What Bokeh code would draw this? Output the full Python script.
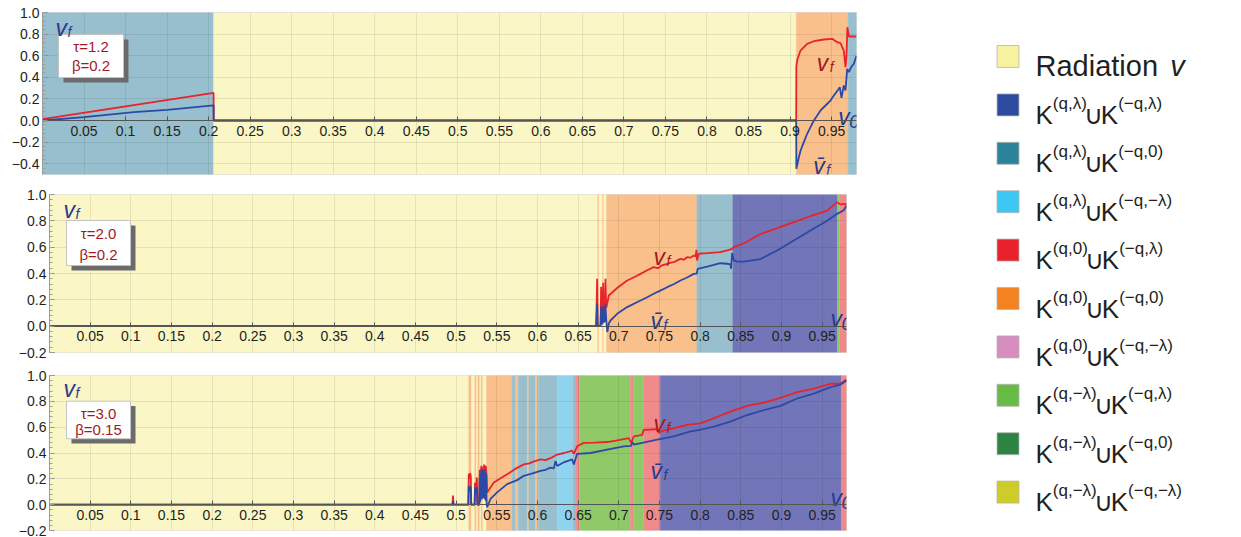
import math
from bokeh.plotting import figure
from bokeh.models import Range1d, FixedTicker, CustomJSTickFormatter
from bokeh.layouts import row, column
from bokeh.core.properties import value
from bokeh.embed import file_html
from bokeh.resources import INLINE

FONT = "Liberation Sans"
RED = "#E8232B"
BLUE = "#2C49A6"
DARKRED = "#A3191F"
NAVY = "#2B3990"
INK = "#231F20"

# ---------------- categories / legend ----------------
sup_a = ["(q,λ)", "(q,λ)", "(q,λ)", "(q,0)", "(q,0)", "(q,0)", "(q,−λ)", "(q,−λ)", "(q,−λ)"]
sup_b = ["(−q,λ)", "(−q,0)", "(−q,−λ)", "(−q,λ)", "(−q,0)", "(−q,−λ)", "(−q,λ)", "(−q,0)", "(−q,−λ)"]
legend_colors = ["#F7F2A0", "#2D4C9F", "#2B8399", "#3DC7F2", "#E8212A",
                 "#F58220", "#D78DC0", "#68BC46", "#2D8442", "#CDCC29"]
region_colors = ["#FAF6C6", "#7276B8", "#98BFCD", "#8FD4EF", "#F08A8A",
                 "#F9C08B", "#EBC3DF", "#90CA68", "#8FBF98", "#E4E39A"]

# ---------------- axes ----------------
X_START, X_END = 0.0, 0.98
x_ticks = [0.05, 0.1, 0.15, 0.2, 0.25, 0.3, 0.35, 0.4, 0.45, 0.5,
           0.55, 0.6, 0.65, 0.7, 0.75, 0.8, 0.85, 0.9, 0.95]
x_tick_labels = ["0.05", "0.1", "0.15", "0.2", "0.25", "0.3", "0.35", "0.4", "0.45", "0.5",
                 "0.55", "0.6", "0.65", "0.7", "0.75", "0.8", "0.85", "0.9", "0.95"]
y_ticks_1 = [-0.4, -0.2, 0.0, 0.2, 0.4, 0.6, 0.8, 1.0]
y_labels_1 = ["−0.4", "−0.2", "0.0", "0.2", "0.4", "0.6", "0.8", "1.0"]
y_ticks_2 = [-0.2, 0.0, 0.2, 0.4, 0.6, 0.8, 1.0]
y_labels_2 = ["−0.2", "0.0", "0.2", "0.4", "0.6", "0.8", "1.0"]

# ---------------- panel 1 (tau=1.2, beta=0.2) ----------------
p1_tau, p1_beta = "1.2", "0.2"
p1_reg_start = [0.0, 0.206, 0.9075, 0.9700]
p1_reg_end = [0.206, 0.9075, 0.9700, 0.98]
p1_reg_cat = [2, 0, 5, 2]
p1_vf_x = [0.0, 0.206, 0.2061, 0.9074, 0.9076, 0.9086, 0.9126, 0.9206, 0.9286, 0.9407,
           0.9508, 0.9567, 0.9607, 0.9647, 0.9668, 0.9680, 0.9690, 0.9708, 0.9750, 0.98]
p1_vf_y = [0.012, 0.256, 0.0, 0.0, 0.50, 0.56, 0.648, 0.71, 0.734, 0.75,
           0.756, 0.725, 0.716, 0.648, 0.494, 0.60, 0.864, 0.778, 0.778, 0.778]
p1_vb_x = [0.0, 0.05, 0.11, 0.15, 0.206, 0.2061, 0.9074, 0.9076, 0.9106, 0.9126, 0.9166,
           0.9206, 0.9246, 0.9286, 0.9327, 0.9367, 0.9427, 0.9487, 0.9527, 0.9567, 0.9599,
           0.9619, 0.9647, 0.9668, 0.9688, 0.9708, 0.9736, 0.9768, 0.98]
p1_vb_y = [0.0, 0.031, 0.077, 0.099, 0.14, 0.0, 0.0, -0.447, -0.34, -0.28, -0.2,
           -0.123, -0.062, 0.0, 0.046, 0.093, 0.139, 0.185, 0.231, 0.272, 0.309,
           0.21, 0.324, 0.278, 0.478, 0.448, 0.494, 0.525, 0.60]

# ---------------- panel 2 (tau=2.0, beta=0.2) ----------------
p2_tau, p2_beta = "2.0", "0.2"
p2_reg_start = [0.0, 0.6740, 0.6756, 0.6800, 0.6815, 0.6849, 0.7960, 0.8402, 0.9690, 0.9717]
p2_reg_end = [0.6740, 0.6756, 0.6800, 0.6815, 0.6849, 0.7960, 0.8402, 0.9690, 0.9717, 0.98]
p2_reg_cat = [0, 5, 0, 5, 0, 5, 2, 1, 7, 4]
p2_vf_x = [0.0, 0.6722, 0.6734, 0.6740, 0.6775, 0.6783, 0.6790, 0.6802, 0.6808, 0.6815,
           0.6830, 0.6836, 0.6845, 0.6857, 0.6877, 0.6980, 0.7103, 0.7200, 0.7267, 0.7350,
           0.7430, 0.7480, 0.7530, 0.7595, 0.7640, 0.7676, 0.7720, 0.7758, 0.7800, 0.7840,
           0.7880, 0.7922, 0.7945, 0.7955, 0.7962, 0.7984, 0.8087, 0.8250, 0.8333, 0.8394,
           0.8414, 0.8540, 0.8742, 0.8950, 0.9152, 0.9357, 0.9562, 0.9685, 0.9720, 0.9800]
p2_vf_y = [0.0, 0.0, 0.36, 0.0, 0.0, 0.30, 0.04, 0.04, 0.33, 0.08,
           0.10, 0.36, 0.14, 0.17, 0.233, 0.29, 0.347, 0.375, 0.397, 0.425,
           0.448, 0.44, 0.462, 0.473, 0.482, 0.486, 0.50, 0.511, 0.505, 0.524,
           0.52, 0.537, 0.53, 0.58, 0.50, 0.55, 0.554, 0.562, 0.575, 0.587,
           0.60, 0.63, 0.70, 0.745, 0.79, 0.835, 0.878, 0.942, 0.925, 0.929]
p2_vb_x = [0.0, 0.6722, 0.6734, 0.6740, 0.6775, 0.6783, 0.6790, 0.6802, 0.6808, 0.6815,
           0.6830, 0.6836, 0.6845, 0.6852, 0.6860, 0.6877, 0.6898, 0.6980, 0.7103, 0.7267,
           0.7350, 0.7430, 0.7510, 0.7595, 0.7680, 0.7758, 0.7840, 0.7922, 0.7960, 0.7970,
           0.8087, 0.8250, 0.8333, 0.8373, 0.8380, 0.8394, 0.8414, 0.8455, 0.8537, 0.8742,
           0.8947, 0.9152, 0.9357, 0.9562, 0.9685, 0.9766, 0.9800]
p2_vb_y = [0.0, 0.0, 0.17, 0.0, 0.0, 0.15, 0.02, 0.02, 0.15, 0.03,
           0.04, 0.17, 0.05, 0.0, -0.045, 0.02, 0.043, 0.094, 0.145, 0.195,
           0.22, 0.246, 0.27, 0.296, 0.32, 0.347, 0.37, 0.397, 0.40, 0.436,
           0.453, 0.478, 0.474, 0.47, 0.436, 0.555, 0.50, 0.49, 0.49, 0.51,
           0.575, 0.65, 0.727, 0.80, 0.853, 0.88, 0.916]

# ---------------- panel 3 (tau=3.0, beta=0.15) ----------------
p3_tau, p3_beta = "3.0", "0.15"
p3_reg_start = [0.0, 0.5156, 0.5189, 0.5229, 0.5250, 0.5266, 0.5291, 0.5308, 0.5328, 0.5373,
                0.5689, 0.5730, 0.5763, 0.5874, 0.5893, 0.5976, 0.6009, 0.6242, 0.6434, 0.6476,
                0.6517, 0.7144, 0.7184, 0.7307, 0.7510, 0.9738]
p3_reg_end = [0.5156, 0.5189, 0.5229, 0.5250, 0.5266, 0.5291, 0.5308, 0.5328, 0.5373, 0.5689,
              0.5730, 0.5763, 0.5874, 0.5893, 0.5976, 0.6009, 0.6242, 0.6434, 0.6476, 0.6517,
              0.7144, 0.7184, 0.7307, 0.7510, 0.9738, 0.98]
p3_reg_cat = [0, 5, 0, 5, 0, 5, 0, 5, 0, 5, 2, 5, 2, 5, 2, 5, 2, 3, 2, 4, 7, 4, 7, 4, 1, 4]
p3_vf_x = [0.0, 0.4955, 0.4962, 0.4968, 0.5150, 0.5155, 0.5165, 0.5172, 0.5180, 0.5186,
           0.5228, 0.5232, 0.5245, 0.5255, 0.5262, 0.5285, 0.5290, 0.5300, 0.5310, 0.5318,
           0.5325, 0.5335, 0.5345, 0.5355, 0.5365, 0.5375, 0.5382, 0.5463, 0.5627, 0.5689,
           0.5750, 0.5832, 0.5900, 0.5960, 0.6037, 0.6100, 0.6160, 0.6242, 0.6330, 0.6427,
           0.6447, 0.6488, 0.6570, 0.6700, 0.6857, 0.7000, 0.7123, 0.7144, 0.7160, 0.7184,
           0.7288, 0.7307, 0.7400, 0.7472, 0.7493, 0.7534, 0.7677, 0.7841, 0.8004, 0.8168,
           0.8373, 0.8578, 0.8783, 0.8988, 0.9193, 0.9398, 0.9603, 0.9726, 0.9800]
p3_vf_y = [0.0, 0.0, 0.07, 0.0, 0.0, 0.24, 0.20, 0.245, 0.22, 0.0,
           0.0, 0.17, 0.12, 0.21, 0.0, 0.0, 0.27, 0.22, 0.30, 0.24,
           0.29, 0.25, 0.31, 0.26, 0.30, 0.22, 0.095, 0.172, 0.235, 0.26,
           0.285, 0.312, 0.32, 0.335, 0.35, 0.345, 0.36, 0.388, 0.40, 0.419,
           0.393, 0.452, 0.478, 0.48, 0.485, 0.50, 0.516, 0.485, 0.49, 0.528,
           0.541, 0.579, 0.582, 0.585, 0.554, 0.572, 0.592, 0.618, 0.63, 0.669,
           0.72, 0.765, 0.79, 0.826, 0.872, 0.898, 0.936, 0.936, 0.969]
p3_vb_x = [0.0, 0.4955, 0.4962, 0.4968, 0.5150, 0.5155, 0.5165, 0.5172, 0.5180, 0.5186,
           0.5228, 0.5232, 0.5245, 0.5255, 0.5262, 0.5285, 0.5290, 0.5295, 0.5300, 0.5305,
           0.5310, 0.5315, 0.5320, 0.5325, 0.5330, 0.5335, 0.5340, 0.5345, 0.5350, 0.5355,
           0.5360, 0.5365, 0.5370, 0.5375, 0.5382, 0.5422, 0.5504, 0.5627, 0.5750, 0.5832,
           0.5930, 0.6037, 0.6100, 0.6160, 0.6200, 0.6222, 0.6242, 0.6330, 0.6427, 0.6447,
           0.6488, 0.6652, 0.6857, 0.7062, 0.7150, 0.7164, 0.7184, 0.7300, 0.7472, 0.7677,
           0.7881, 0.8004, 0.8168, 0.8373, 0.8578, 0.8783, 0.8988, 0.9193, 0.9398, 0.9603,
           0.9726, 0.9800]
p3_vb_y = [0.0, 0.0, 0.03, 0.0, 0.0, 0.14, 0.10, 0.146, 0.12, 0.0,
           0.0, 0.13, 0.08, 0.134, 0.0, 0.0, 0.20, 0.02, 0.24, 0.05,
           0.27, 0.04, 0.25, 0.06, 0.27, 0.05, 0.26, 0.05, 0.27, 0.04,
           0.25, 0.03, 0.24, 0.0, -0.02, 0.044, 0.095, 0.159, 0.19, 0.223,
           0.24, 0.261, 0.27, 0.287, 0.28, 0.337, 0.30, 0.33, 0.35, 0.312,
           0.394, 0.40, 0.427, 0.452, 0.455, 0.485, 0.465, 0.48, 0.503, 0.528,
           0.567, 0.58, 0.605, 0.643, 0.694, 0.732, 0.765, 0.822, 0.86, 0.91,
           0.929, 0.962]


def lookup_formatter(vals, labs):
    return CustomJSTickFormatter(args=dict(vals=vals, labs=labs), code="""
let b = 0;
for (let i = 0; i < vals.length; i++) {
  if (Math.abs(vals[i] - tick) < Math.abs(vals[b] - tick)) { b = i; }
}
return labs[b];
""")


def panel(height, borders, y_lo, y_hi, y_ticks, y_labels,
          reg_start, reg_end, reg_cat, vf_x, vf_y, vb_x, vb_y):
    bl, br, bt, bb = borders
    p = figure(width=862, height=height,
               x_range=Range1d(X_START, X_END), y_range=Range1d(y_lo, y_hi),
               output_backend="svg", toolbar_location=None,
               min_border_left=bl, min_border_right=br,
               min_border_top=bt, min_border_bottom=bb)
    p.frame_align = False
    p.background_fill_color = "white"
    p.border_fill_color = "white"
    p.outline_line_color = "#dcdcdc"

    cols = [region_colors[c] for c in reg_cat]
    p.quad(left=reg_start, right=reg_end, bottom=y_lo, top=y_hi,
           fill_color=cols, line_color=cols, line_width=0.4, level="image")
    p.line(vf_x, vf_y, line_color=RED, line_width=1.8)
    p.line(vb_x, vb_y, line_color=BLUE, line_width=1.8)

    minor = [round(k * 0.04, 2) for k in range(math.ceil(y_lo / 0.04 - 1e-9),
                                                math.floor(y_hi / 0.04 + 1e-9) + 1)]
    xa = p.xaxis[0]
    xa.ticker = FixedTicker(ticks=x_ticks)
    xa.formatter = lookup_formatter(x_ticks, x_tick_labels)
    xa.fixed_location = 0
    xa.axis_line_color = "#555555"
    xa.axis_line_width = 1
    xa.major_tick_line_color = "#555555"
    xa.major_tick_in = 4
    xa.major_tick_out = 0
    xa.minor_tick_line_color = None
    xa.major_label_standoff = 5
    xa.major_label_text_font = FONT
    xa.major_label_text_font_size = "14px"
    xa.major_label_text_color = INK

    ya = p.yaxis[0]
    ya.ticker = FixedTicker(ticks=y_ticks, minor_ticks=minor)
    ya.formatter = lookup_formatter(y_ticks, y_labels)
    ya.axis_line_color = "#9a9a9a"
    ya.major_tick_line_color = "#8a8a8a"
    ya.minor_tick_line_color = "#a0a0a0"
    ya.major_tick_in = 5
    ya.major_tick_out = 0
    ya.minor_tick_in = 3
    ya.minor_tick_out = 0
    ya.major_label_standoff = 3
    ya.major_label_text_font = FONT
    ya.major_label_text_font_size = "14px"
    ya.major_label_text_color = INK

    p.xgrid.ticker = FixedTicker(ticks=x_ticks)
    p.ygrid.ticker = FixedTicker(ticks=y_ticks)
    p.grid.grid_line_color = "#000000"
    p.grid.grid_line_alpha = 0.08
    return p


def vlabel(p, x, y, main, sub, color, sub_size="14px", sub_dx=12, sub_dy=4):
    p.text(x=[x], y=[y], text=[main], text_color=color, text_font=value(FONT),
           text_font_style="italic", text_font_size=value("23px"),
           text_baseline="alphabetic", text_align="left")
    p.text(x=[x], y=[y], text=[sub], x_offset=sub_dx, y_offset=sub_dy,
           text_color=color, text_font=value(FONT), text_font_style="italic",
           text_font_size=value(sub_size), text_baseline="alphabetic", text_align="left")


def inset(p, x0, x1, y_top, y_bot, sx, sy, tau, beta, y_t, y_b):
    p.quad(left=[x0 + sx], right=[x1 + sx], top=[y_top - sy], bottom=[y_bot - sy],
           fill_color="#6b6b6b", line_color=None)
    p.quad(left=[x0], right=[x1], top=[y_top], bottom=[y_bot],
           fill_color="white", line_color="#c4c4c4", line_width=1)
    xc = (x0 + x1) / 2
    p.text(x=[xc, xc], y=[y_t, y_b], text=["τ=" + tau, "β=" + beta],
           text_align="center", text_baseline="middle", text_color=DARKRED,
           text_font=value(FONT), text_font_size=value("15px"))


# ---- build panels ----
p1 = panel(182, (42, 6, 12, 8), -0.5, 1.0, y_ticks_1, y_labels_1,
           p1_reg_start, p1_reg_end, p1_reg_cat, p1_vf_x, p1_vf_y, p1_vb_x, p1_vb_y)
inset(p1, 0.0193, 0.0975, 0.796, 0.398, 0.006, 0.046, p1_tau, p1_beta, 0.685, 0.509)
vlabel(p1, 0.0157, 0.852, "v", "f", NAVY)
vlabel(p1, 0.932, 0.537, "v", "f", DARKRED, sub_dx=13)
vlabel(p1, 0.928, -0.417, "v\u0304", "f", NAVY, sub_dx=13)
vlabel(p1, 0.958, 0.037, "v", "0", NAVY, sub_size="18px", sub_dx=11, sub_dy=5)

p2 = panel(181, (49, 16, 12, 11), -0.2, 1.0, y_ticks_2, y_labels_2,
           p2_reg_start, p2_reg_end, p2_reg_cat, p2_vf_x, p2_vf_y, p2_vb_x, p2_vb_y)
inset(p2, 0.0209, 0.0996, 0.8025, 0.461, 0.00615, 0.038, p2_tau, p2_beta, 0.704, 0.544)
vlabel(p2, 0.0172, 0.886, "v", "f", NAVY)
vlabel(p2, 0.7426, 0.529, "v", "f", DARKRED, sub_dx=13)
vlabel(p2, 0.739, 0.043, "v\u0304", "f", NAVY, sub_dx=13)
vlabel(p2, 0.9603, 0.058, "v", "0", NAVY, sub_size="18px", sub_dx=11, sub_dy=5)

p3 = panel(174, (49, 16, 12, 7), -0.2, 1.0, y_ticks_2, y_labels_2,
           p3_reg_start, p3_reg_end, p3_reg_cat, p3_vf_x, p3_vf_y, p3_vb_x, p3_vb_y)
inset(p3, 0.0209, 0.0996, 0.801, 0.5106, 0.00615, 0.038, p3_tau, p3_beta, 0.709, 0.579)
vlabel(p3, 0.0172, 0.893, "v", "f", NAVY)
vlabel(p3, 0.7426, 0.625, "v", "f", DARKRED, sub_dx=13)
vlabel(p3, 0.739, 0.258, "v\u0304", "f", NAVY, sub_dx=13)
vlabel(p3, 0.9603, 0.052, "v", "0", NAVY, sub_size="18px", sub_dx=11, sub_dy=5)

# ---- legend figure ----
LW, LH = 379, 537
leg = figure(width=LW, height=LH, x_range=Range1d(0, LW), y_range=Range1d(LH, 0),
             output_backend="svg", toolbar_location=None,
             x_axis_location=None, y_axis_location=None, min_border=0)
leg.grid.visible = False
leg.outline_line_color = None
leg.background_fill_color = "white"
leg.border_fill_color = "white"

row_y = [56 + 48.4 * i for i in range(10)]
leg.rect(x=145.5, y=row_y, width=22, height=22, fill_color=legend_colors,
         line_color="#b5b5b5", line_width=0.8)

leg.text(x=[173], y=[row_y[0] + 9], text=["Radiation"], text_color=INK,
         text_font=value(FONT), text_font_size=value("29px"),
         text_baseline="alphabetic", text_align="left")
leg.text(x=[315], y=[row_y[0] + 9], text=["v"], text_color=INK,
         text_font=value(FONT), text_font_style="italic", text_font_size=value("29px"),
         text_baseline="alphabetic", text_align="center")

CW = {"(": 0.333, ")": 0.333, "q": 0.556, ",": 0.278, "λ": 0.5, "−": 0.584, "0": 0.556}
MAIN, SUP = 26, 17


def tw(s, size):
    return sum(CW[c] for c in s) * size


k_x, k_y, s_x, s_y, s_t, u_x, u_y = [], [], [], [], [], [], []
for i in range(9):
    yb = row_y[i + 1] + 10
    x = 173.0
    k_x.append(x); k_y.append(yb)
    x += 0.667 * MAIN
    s_x.append(x); s_y.append(yb - 11.5); s_t.append(sup_a[i])
    x += tw(sup_a[i], SUP)
    u_x.append(x + 7); u_y.append(yb)
    x += 14
    k_x.append(x); k_y.append(yb)
    x += 0.667 * MAIN
    s_x.append(x); s_y.append(yb - 11.5); s_t.append(sup_b[i])

leg.text(x=k_x, y=k_y, text=["K"] * len(k_x), text_color=INK, text_font=value(FONT),
         text_font_size=value(f"{MAIN}px"), text_baseline="alphabetic", text_align="left")
leg.text(x=u_x, y=u_y, text=["∪"] * len(u_x), text_color=INK, text_font=value(FONT),
         text_font_size=value(f"{MAIN}px"), text_baseline="alphabetic", text_align="center")
leg.text(x=s_x, y=s_y, text=s_t, text_color=INK, text_font=value(FONT),
         text_font_size=value(f"{SUP}px"), text_baseline="alphabetic", text_align="left")

layout = row(column(p1, p2, p3), leg)
open("out.html", "w").write(file_html(layout, INLINE, "chart"))
